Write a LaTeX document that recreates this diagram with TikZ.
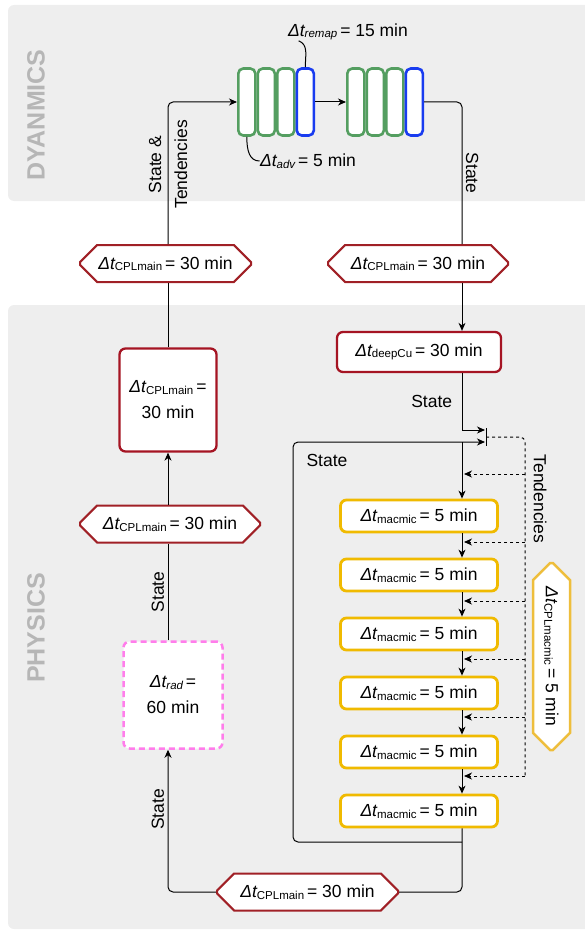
\documentclass[tikz,border=0pt]{standalone}
\usepackage{fontspec}
\setmainfont{Liberation Sans}
\usetikzlibrary{arrows.meta,shapes.misc}

\definecolor{panelgray}{RGB}{238,238,238}
\definecolor{titlegray}{RGB}{182,182,182}
\definecolor{advgreen}{RGB}{84,158,96}
\definecolor{remapblue}{RGB}{25,60,240}
\definecolor{cplred}{RGB}{165,20,35}
\definecolor{hexred}{RGB}{160,32,38}
\definecolor{macgold}{RGB}{240,186,0}
\definecolor{hexgold}{RGB}{238,190,60}
\definecolor{radpink}{RGB}{255,125,235}

\newcommand{\dtsub}[1]{{\itshape Δt}\raisebox{-1.5pt}{\fontsize{11.5}{11}\selectfont #1}}
\newcommand{\dtsubit}[1]{{\itshape Δt\raisebox{-1.5pt}{\fontsize{11.5}{11}\selectfont #1}}}

\begin{document}
\begin{tikzpicture}[x=1pt, y=-1pt, line width=1pt, >={Stealth[length=8pt,width=7pt,inset=2.5pt]},
  every node/.style={font=\fontsize{17.5}{26}\selectfont},
  paneltitle/.style={font=\fontsize{25}{25}\selectfont\bfseries, text=titlegray},
  dynbox/.style={draw, line width=2.6pt, rounded corners=5pt, fill=white, minimum width=17pt, minimum height=67pt, inner sep=0pt},
  redbox/.style={draw=cplred, line width=2.3pt, rounded corners=6pt, fill=white, align=center, inner sep=0pt},
  macbox/.style={draw=macgold, line width=2.8pt, rounded corners=6pt, fill=white, minimum width=157pt, minimum height=32pt, inner sep=0pt},
  radbox/.style={draw=radpink, line width=2.5pt, dash pattern=on 6pt off 4pt, rounded corners=6pt, fill=white, align=center, minimum width=99pt, minimum height=107pt, inner sep=0pt},
  hexnode/.style={chamfered rectangle, draw=hexred, line width=2pt, fill=white, chamfered rectangle xsep=28pt, chamfered rectangle ysep=10pt, minimum height=37pt, inner sep=0pt}]
  \useasboundingbox (0,0) rectangle (585,931);
  \fill[panelgray, rounded corners=6pt] (8,5) rectangle (600,201);
  \fill[panelgray, rounded corners=6pt] (8,305) rectangle (600,929);
  \node[paneltitle, rotate=90] (dyntitle) at (36,115) {DYANMICS};
  \node[paneltitle, rotate=90] (phytitle) at (36,628) {PHYSICS};

  \foreach \x [count=\i] in {246.8,266.3,285.8} \node[dynbox, draw=advgreen] (a\i) at (\x,102) {};
  \node[dynbox, draw=remapblue] (a4) at (305.3,102) {};
  \foreach \x [count=\i] in {355.8,375.3,394.8} \node[dynbox, draw=advgreen] (b\i) at (\x,102) {};
  \node[dynbox, draw=remapblue] (b4) at (414.3,102) {};
  \node[inner sep=0pt] (remap) at (348,32) {\dtsubit{remap}\,= 15 min};
  \node[inner sep=0pt] (adv) at (308,161) {\dtsubit{adv}\,= 5 min};

  \node[hexnode, minimum width=171pt] (cplA) at (165.5,263.5) {\dtsub{CPLmain}\,= 30 min};
  \node[hexnode, minimum width=180pt] (cplB) at (418,263.5) {\dtsub{CPLmain}\,= 30 min};
  \node[redbox, minimum width=97pt, minimum height=103pt] (cplbox) at (168,400) {\dtsub{CPLmain}\,=\\30 min};
  \node[hexnode, minimum width=180pt] (cplC) at (170,524) {\dtsub{CPLmain}\,= 30 min};
  \node[radbox] (rad) at (173,695) {\dtsubit{rad}\,=\\60 min};
  \node[hexnode, minimum width=181pt] (cplD) at (307.5,892) {\dtsub{CPLmain}\,= 30 min};
  \node[redbox, minimum width=164pt, minimum height=40pt] (deep) at (419,352) {\dtsub{deepCu}\,= 30 min};
  \foreach \y [count=\i] in {516,575,634,693,752,811} \node[macbox] (m\i) at (419,\y) {\dtsub{macmic}\,= 5 min};
  \node[hexnode, draw=hexgold, rotate=-90, line width=2.5pt, chamfered rectangle xsep=45pt, minimum width=187pt] (cplE) at (551.5,656.5) {\dtsub{CPLmacmic}\,= 5 min};

  \coordinate (lcol) at (168,0);
  \coordinate (rcol) at (462,0);
  \coordinate (ta) at (485,430);
  \coordinate (tb) at (485,442);
  \coordinate (lp) at (462,842);
  \coordinate (loopt) at (293,442);

  \draw (a1.south) .. controls +(0,14) and +(-10,0) .. (adv.west);
  \draw ([xshift=11pt]remap.south west) .. controls +(10,4) and +(0,-12) .. (a4.north);
  \draw[->, rounded corners=5pt] (cplA.north -| lcol) |- (a1.west) node[pos=0.28, rotate=90, align=center] {State \&\\Tendencies};
  \draw[->] (a4.east) -- (b1.west);
  \draw[rounded corners=5pt] (b4.east) -| (cplB.north -| rcol) node[pos=0.75, rotate=-90, anchor=south] {State};
  \draw[->] (cplB.south -| rcol) -- (deep.north -| rcol);
  \draw (cplbox.north -| lcol) -- (cplA.south -| lcol);
  \draw[->] (cplC.north -| lcol) -- (cplbox.south -| lcol);
  \draw (rad.north -| lcol) -- (cplC.south -| lcol) node[midway, rotate=90, anchor=south] {State};
  \draw[->, rounded corners=5pt] (cplD.west) -| (rad.south -| lcol) node[pos=0.79, rotate=90, anchor=south] {State};

  \draw[->] (deep.south -| rcol) |- (ta) node[pos=0.25, left, xshift=-6pt] {State};
  \draw (486,428) -- (486,446);
  \draw[->, rounded corners=5pt] (lp) -| (loopt) -- (tb);
  \node (stateloop) at (327,460) {State};
  \draw[->] (rcol |- tb) -- (m1.north -| rcol);
  \foreach \i [evaluate=\i as \j using int(\i+1)] in {1,...,5} \draw[->] (m\i.south -| rcol) -- (m\j.north -| rcol);
  \draw[rounded corners=5pt] (m6.south -| rcol) |- (cplD.east);
  \draw[dashed, rounded corners=5pt] (486,437) -| (525,776);
  \foreach \y in {474,542,601,659,717,776} \draw[dashed, ->] (525,\y) -- (464,\y);
  \node[rotate=-90] (tend) at (540,499) {Tendencies};
\end{tikzpicture}
\end{document}
